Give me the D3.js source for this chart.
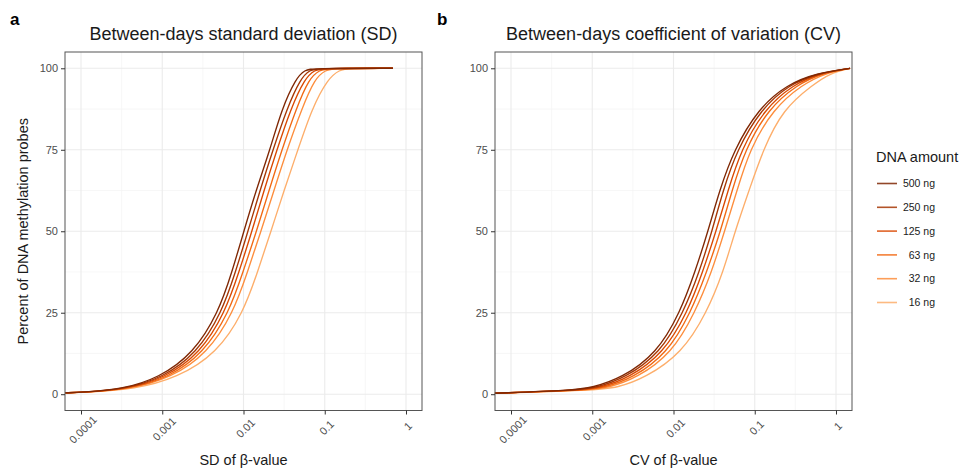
<!DOCTYPE html>
<html lang="en">
<head>
  <meta charset="utf-8">
  <title>Between-days variability by DNA amount</title>
  <script src="https://d3js.org/d3.v7.min.js" charset="utf-8"></script>
  <style>
    body {
      margin: 0;
      background: #fff;
      font-family: "Liberation Sans", Arial, sans-serif;
    }
    .grid-major { stroke: #ebebeb; stroke-width: 1.1; }
    .grid-minor { stroke: #f3f3f3; stroke-width: 0.7; }
    .tick text { fill: #4d4d4d; font-size: 11px; font-family: "Liberation Sans", Arial, sans-serif; }
    .tick line { stroke: #333; }
    .curve { fill: none; stroke-width: 1.35; }
  </style>
</head>
<body>
<script>
  // DNA amounts (legend order) and their colours
  var amounts = ["500 ng", "250 ng", "125 ng", "63 ng", "32 ng", "16 ng"];
  var colors = ["#7f2704", "#a63603", "#d94801", "#f16913", "#fd8d3c", "#fdae6b"];

  // panel a: SD of beta-value reached at each percent of probes
  var sdPercent = [0.4, 0.6, 1.5, 5, 12.5, 25, 37.5, 50, 62.5, 75, 87.5, 97, 99.5, 100, 100];
  var sd500 = [6.4e-5, 1.0e-4, 3.2e-4, 9.1e-4, 2.41e-3, 4.9e-3, 7.22e-3, 0.0101, 0.01425, 0.0212, 0.0295, 0.0443, 0.057, 0.0716, 0.69];
  var sd250 = [6.4e-5, 1.03e-4, 3.39e-4, 1.0e-3, 2.65e-3, 5.4e-3, 7.97e-3, 0.01135, 0.01595, 0.0231, 0.034, 0.0506, 0.0658, 0.0824, 0.69];
  var sd125 = [6.4e-5, 1.06e-4, 3.59e-4, 1.08e-3, 2.92e-3, 5.92e-3, 8.8e-3, 0.0127, 0.01787, 0.0258, 0.038, 0.057, 0.0757, 0.095, 0.69];
  var sd63 = [6.4e-5, 1.09e-4, 3.8e-4, 1.18e-3, 3.2e-3, 6.63e-3, 9.86e-3, 0.01445, 0.0206, 0.0297, 0.0443, 0.0644, 0.0873, 0.1094, 0.69];
  var sd32 = [6.4e-5, 1.12e-4, 4.0e-4, 1.28e-3, 3.59e-3, 7.5e-3, 0.0112, 0.0164, 0.0237, 0.0343, 0.052, 0.0757, 0.1035, 0.1297, 0.69];
  var sd16 = [6.4e-5, 1.22e-4, 4.6e-4, 1.52e-3, 4.68e-3, 9.95e-3, 0.0149, 0.0218, 0.0315, 0.0468, 0.069, 0.110, 0.154, 0.1875, 0.69];

  // panel b: CV of beta-value reached at each percent of probes
  var cvPercent = [0.3, 1.2, 2, 5, 12.5, 25, 37.5, 50, 62.5, 75, 87.5, 95, 98.5, 100];
  var cv500 = [6.34e-5, 5.62e-4, 1.0e-3, 2.32e-3, 6.21e-3, 0.01202, 0.0184, 0.0266, 0.0368, 0.0556, 0.1098, 0.2477, 0.58, 1.49];
  var cv250 = [6.34e-5, 6.12e-4, 1.14e-3, 2.53e-3, 6.82e-3, 0.0132, 0.0208, 0.0298, 0.0407, 0.0605, 0.1196, 0.2645, 0.602, 1.49];
  var cv125 = [6.34e-5, 6.67e-4, 1.28e-3, 2.83e-3, 7.49e-3, 0.01479, 0.0229, 0.0334, 0.0469, 0.0678, 0.132, 0.296, 0.637, 1.49];
  var cv63 = [6.34e-5, 7.47e-4, 1.43e-3, 3.17e-3, 8.39e-3, 0.0163, 0.02565, 0.0379, 0.0525, 0.076, 0.1458, 0.332, 0.674, 1.49];
  var cv32 = [6.34e-5, 8.36e-4, 1.61e-3, 3.55e-3, 9.5e-3, 0.0184, 0.02954, 0.0425, 0.0605, 0.0863, 0.168, 0.3824, 0.735, 1.49];
  var cv16 = [6.34e-5, 1.0e-3, 2.07e-3, 4.46e-3, 0.01262, 0.02565, 0.041, 0.0571, 0.0851, 0.1265, 0.223, 0.522, 0.845, 1.49];

  // axis ticks
  var xTicks = [0.0001, 0.001, 0.01, 0.1, 1];
  var xTickLabels = ["0.0001", "0.001", "0.01", "0.1", "1"];
  var xMinor = [Math.pow(10, -3.5), Math.pow(10, -2.5), Math.pow(10, -1.5), Math.pow(10, -0.5)];
  var yTicks = [0, 25, 50, 75, 100];
  var yMinor = [12.5, 37.5, 62.5, 87.5];

  var width = 962;
  var height = 470;

  var svg = d3.select("body")
    .append("svg")
    .attr("width", width)
    .attr("height", height);

  // panel box (shared by both panels)
  var panelTop = 52, panelBottom = 410.5;

  function drawPanel(left, right, letter, letterX, title, xTitle, percent, series, showY) {
    var g = svg.append("g");

    var x = d3.scaleLog()
      .domain([Math.pow(10, -4.197), Math.pow(10, 0.197)])
      .range([left, right]);
    var y = d3.scaleLinear()
      .domain([-5, 105])
      .range([panelBottom, panelTop]);

    // grid
    g.selectAll(".ym").data(yMinor).enter().append("line")
      .attr("class", "grid-minor")
      .attr("x1", left).attr("x2", right)
      .attr("y1", function(d) { return y(d); }).attr("y2", function(d) { return y(d); });
    g.selectAll(".xm").data(xMinor).enter().append("line")
      .attr("class", "grid-minor")
      .attr("y1", panelTop).attr("y2", panelBottom)
      .attr("x1", function(d) { return x(d); }).attr("x2", function(d) { return x(d); });
    g.selectAll(".yM").data(yTicks).enter().append("line")
      .attr("class", "grid-major")
      .attr("x1", left).attr("x2", right)
      .attr("y1", function(d) { return y(d); }).attr("y2", function(d) { return y(d); });
    g.selectAll(".xM").data(xTicks).enter().append("line")
      .attr("class", "grid-major")
      .attr("y1", panelTop).attr("y2", panelBottom)
      .attr("x1", function(d) { return x(d); }).attr("x2", function(d) { return x(d); });

    // curves, lightest first so the dark ones sit on top
    var line = d3.line()
      .x(function(d) { return x(d[0]); })
      .y(function(d) { return y(d[1]); })
      .curve(d3.curveBasis);
    for (var i = series.length - 1; i >= 0; i--) {
      var pts = series[i].map(function(v, j) { return [v, percent[j]]; });
      g.append("path")
        .attr("class", "curve")
        .attr("stroke", colors[i])
        .attr("d", line(pts));
    }

    // border
    g.append("rect")
      .attr("x", left).attr("y", panelTop)
      .attr("width", right - left).attr("height", panelBottom - panelTop)
      .attr("fill", "none")
      .attr("stroke", "#555")
      .attr("stroke-width", 1);

    // x axis
    var xAxis = g.append("g")
      .attr("transform", "translate(0," + panelBottom + ")")
      .call(d3.axisBottom(x).tickValues(xTicks).tickSize(4)
        .tickFormat(function(d, i) { return xTickLabels[i]; }));
    xAxis.select(".domain").remove();
    xAxis.selectAll(".tick text")
      .attr("y", 0).attr("dy", "0.35em")
      .attr("text-anchor", "middle")
      .attr("transform", function(d, i) {
        return "translate(1.5," + (15 + 0.7 * xTickLabels[i].length) + ") rotate(-45)";
      });

    // y axis
    var yAxis = g.append("g")
      .attr("transform", "translate(" + left + ",0)")
      .call(d3.axisLeft(y).tickValues(yTicks).tickSize(4).tickPadding(3));
    yAxis.select(".domain").remove();

    // titles
    g.append("text")
      .attr("x", (left + right) / 2).attr("y", 40)
      .attr("text-anchor", "middle")
      .attr("font-size", "18px")
      .attr("fill", "#1a1a1a")
      .text(title);
    g.append("text")
      .attr("x", (left + right) / 2).attr("y", 465)
      .attr("text-anchor", "middle")
      .attr("font-size", "14.5px")
      .attr("fill", "#1a1a1a")
      .text(xTitle);
    g.append("text")
      .attr("x", letterX).attr("y", 25)
      .attr("font-size", "17px")
      .attr("font-weight", "bold")
      .text(letter);

    if (showY) {
      g.append("text")
        .attr("transform", "translate(28," + ((panelTop + panelBottom) / 2) + ") rotate(-90)")
        .attr("text-anchor", "middle")
        .attr("font-size", "14.5px")
        .attr("fill", "#1a1a1a")
        .text("Percent of DNA methylation probes");
    }
  }

  drawPanel(65, 422, "a", 10, "Between-days standard deviation (SD)", "SD of \u03b2-value",
    sdPercent, [sd500, sd250, sd125, sd63, sd32, sd16], true);
  drawPanel(495, 852, "b", 437, "Between-days coefficient of variation (CV)", "CV of \u03b2-value",
    cvPercent, [cv500, cv250, cv125, cv63, cv32, cv16], false);

  // legend
  var legend = svg.append("g");
  legend.append("text")
    .attr("x", 876).attr("y", 162)
    .attr("font-size", "14.5px")
    .attr("fill", "#1a1a1a")
    .text("DNA amount");
  var ly = d3.scalePoint().domain(amounts).range([183.5, 302.5]);
  var items = legend.selectAll(".item").data(amounts).enter().append("g")
    .attr("transform", function(d) { return "translate(0," + ly(d) + ")"; });
  items.append("line")
    .attr("x1", 877).attr("x2", 897)
    .attr("stroke", function(d, i) { return colors[i]; })
    .attr("stroke-opacity", 0.85)
    .attr("stroke-width", 1.6);
  items.append("text")
    .attr("x", 935).attr("dy", "0.35em")
    .attr("text-anchor", "end")
    .attr("font-size", "10.5px")
    .attr("fill", "#1a1a1a")
    .text(function(d) { return d; });
</script>
</body>
</html>
